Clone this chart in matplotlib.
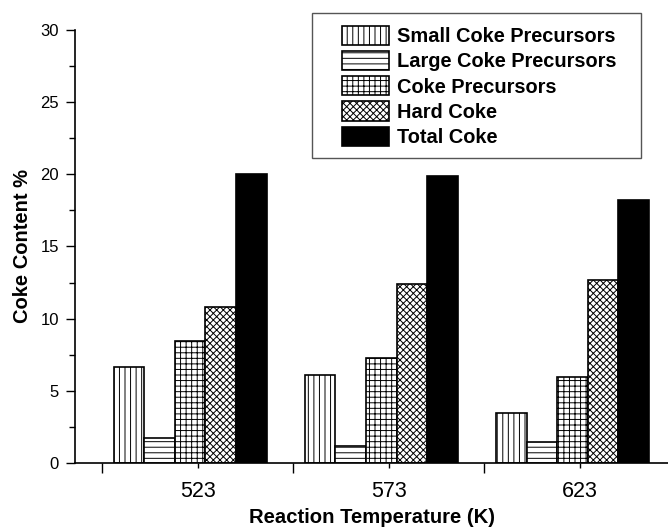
import matplotlib
matplotlib.use("Agg")
import matplotlib.pyplot as plt
import numpy as np

plt.rcParams['font.family'] = ['Liberation Sans', 'DejaVu Sans']
plt.rcParams['hatch.linewidth'] = 0.7

# datos
temperaturas = ['523', '573', '623']
series = ['Small Coke Precursors', 'Large Coke Precursors', 'Coke Precursors', 'Hard Coke', 'Total Coke']
small_coke = [6.63, 6.1, 3.44]
large_coke = [1.75, 1.2, 1.48]
coke_prec = [8.45, 7.3, 5.98]
hard_coke = [10.8, 12.4, 12.68]
total_coke = [20.03, 19.9, 18.25]

valores = [small_coke, large_coke, coke_prec, hard_coke, total_coke]
tramas = ['|||', '---', '+++', 'xxxxx', None]
rellenos = ['white', 'white', 'white', 'white', 'black']

fig = plt.figure(figsize=(6.68, 5.28), dpi=100)
ax = fig.add_axes([0.1123, 0.1231, 0.8877, 0.8201])

x = np.arange(len(temperaturas))
ancho = 0.16
for i, (nombre, vals) in enumerate(zip(series, valores)):
    pos = x - 0.04 + (i - 2) * ancho
    ax.bar(pos, vals, ancho, label=nombre, color=rellenos[i], edgecolor='black',
           hatch=tramas[i], linewidth=1.2)

ax.set_xlim(-0.642, 2.46)
ax.set_ylim(0, 30)
ax.set_xticks(x)
ax.set_xticklabels(temperaturas, fontsize=15.5)
ax.set_xticks([-0.5, 0.5, 1.5], minor=True)
ax.set_yticks(range(0, 31, 5))
ax.set_yticks(np.arange(0, 30, 2.5), minor=True)
ax.tick_params(axis='y', which='major', length=6.5, width=1, labelsize=12, pad=5)
ax.tick_params(axis='y', which='minor', length=4.3, width=1)
ax.tick_params(axis='x', which='major', length=3.6, width=1, pad=9)
ax.tick_params(axis='x', which='minor', length=7.2, width=1)

for lado in ['top', 'right']:
    ax.spines[lado].set_visible(False)
for lado in ['left', 'bottom']:
    ax.spines[lado].set_linewidth(1.2)

ax.set_xlabel('Reaction Temperature (K)', fontsize=14.6, fontweight='bold', labelpad=5)
ax.set_ylabel('Coke Content %', fontsize=14.5, fontweight='bold', labelpad=6)

# leyenda sin marco y recuadro aparte (el original tiene más margen a la izquierda)
leg = ax.legend(loc='upper left', bbox_to_anchor=(0.5115, 0.951),
                bbox_transform=fig.transFigure, frameon=False,
                prop={'weight': 'bold', 'size': 14.4}, handlelength=2.35,
                handleheight=1.1, labelspacing=0.24, handletextpad=0.43,
                borderpad=0, borderaxespad=0)
marco = plt.Rectangle((311.7 / 668, 1 - 158.3 / 528), 329 / 668, 145.6 / 528,
                      transform=fig.transFigure, fill=False, edgecolor='#555555',
                      linewidth=1.0)
fig.patches.append(marco)

plt.savefig('out.png', dpi=100)
